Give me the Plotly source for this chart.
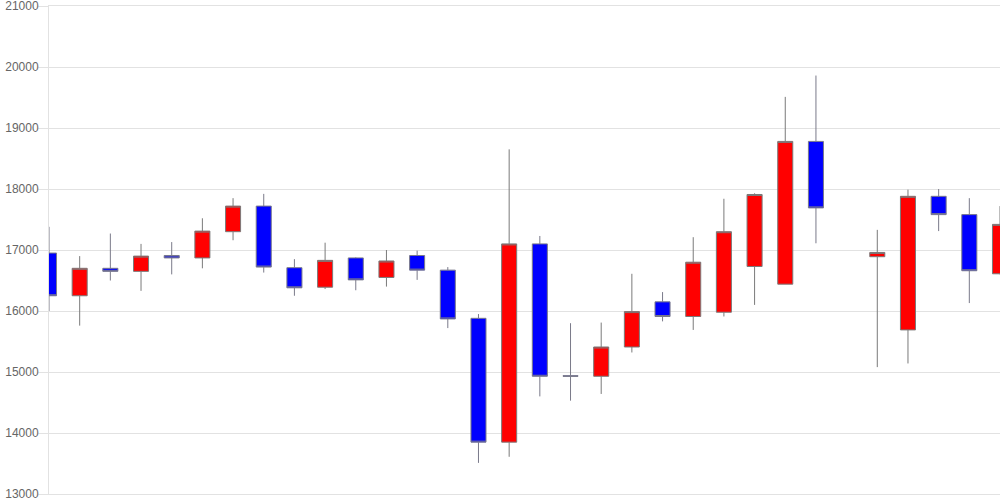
"""
Candlestick chart: red = up, blue = down
"""

import plotly.graph_objects as go

# ---------- Data ----------
# period number of each candle (period 27 has no data)
periods = [1, 2, 3, 4, 5, 6, 7, 8, 9, 10, 11, 12, 13, 14, 15, 16,
           17, 18, 19, 20, 21, 22, 23, 24, 25, 26, 28, 29, 30, 31, 32]

opens = [16950, 16250, 16700, 16650, 16910, 16870, 17300, 17720, 16710, 16390,
         16870, 16550, 16910, 16670, 15880, 13850, 17100, 14940, 14930, 15410,
         16150, 15910, 15980, 16730, 16440, 18780, 16890, 15690, 17880, 17580,
         16610]
highs = [17380, 16900, 17270, 17100, 17130, 17520, 17850, 17920, 16850, 17120,
         16880, 17000, 16990, 16720, 15950, 18650, 17230, 15800, 15810, 16610,
         16310, 17210, 17840, 17930, 19510, 19860, 17330, 17990, 18000, 17850,
         17720]
lows = [16000, 15760, 16500, 16330, 16600, 16700, 17160, 16630, 16250, 16360,
        16340, 16400, 16510, 15720, 13510, 13610, 14600, 14530, 14640, 15320,
        15830, 15690, 15910, 16100, 16440, 17110, 15080, 15140, 17310, 16130,
        16600]
closes = [16250, 16700, 16650, 16900, 16870, 17310, 17720, 16720, 16380, 16830,
          16510, 16820, 16670, 15870, 13850, 17100, 14930, 14930, 15410, 15990,
          15910, 16800, 17300, 17910, 18780, 17690, 16960, 17880, 17580, 16660,
          17420]

y_ticks = [13000, 14000, 15000, 16000, 17000, 18000, 19000, 20000, 21000]

GRID = "#e2e2e2"

fig = go.Figure(
    go.Candlestick(
        x=periods,
        open=opens,
        high=highs,
        low=lows,
        close=closes,
        increasing=dict(fillcolor="#ff0000", line=dict(color="#7a7a7a", width=1)),
        decreasing=dict(fillcolor="#0000ff", line=dict(color="#7a7a8a", width=1)),
        whiskerwidth=0,
        hoverinfo="skip",
    )
)

fig.update_layout(
    width=1000,
    height=500,
    margin=dict(l=49, r=0, t=6, b=6),
    paper_bgcolor="white",
    plot_bgcolor="white",
    showlegend=False,
    boxgap=0.3,
    font=dict(family="Arial, Liberation Sans, sans-serif", size=12, color="#666666"),
)
fig.update_xaxes(
    range=[periods[0], periods[-1]],
    showticklabels=False,
    showgrid=False,
    zeroline=False,
    showline=True,
    linecolor=GRID,
    mirror=True,
    automargin=False,
    rangeslider_visible=False,
)
fig.update_yaxes(
    range=[y_ticks[0], y_ticks[-1]],
    tickvals=y_ticks,
    ticktext=[str(t) for t in y_ticks],
    gridcolor=GRID,
    zeroline=False,
    showline=True,
    linecolor=GRID,
    ticks="outside",
    ticklen=10,
    tickcolor=GRID,
    ticklabelstandoff=-3,
    ticklabeloverflow="allow",
    automargin=False,
)

# drop the page's default 8px body margin so the figure sits at the window corner
fig.write_html(
    "out.html",
    config=dict(displayModeBar=False),
    post_script="document.body.style.margin='0';document.body.style.overflow='hidden';",
)
